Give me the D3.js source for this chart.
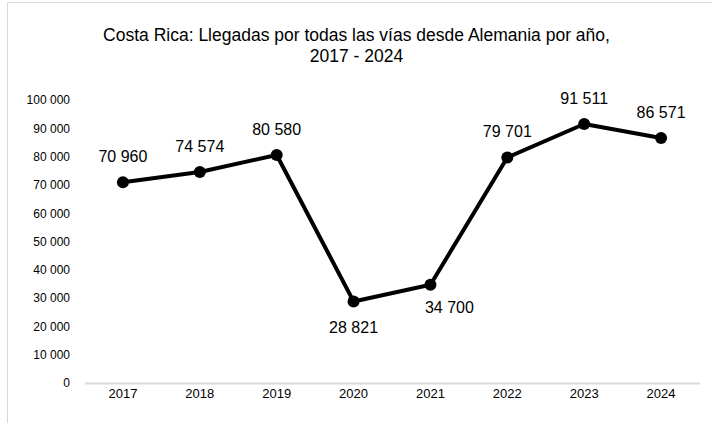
<!DOCTYPE html>
<html><head><meta charset="utf-8">
<script src="https://cdn.jsdelivr.net/npm/d3@7"></script>
<style>body{margin:0;background:#fff;}svg{display:block;font-family:"Liberation Sans",Arial,sans-serif;}</style>
</head><body><svg id="c" width="712" height="423"></svg>
<script>
const years = ["2017","2018","2019","2020","2021","2022","2023","2024"];
const arrivals = [70960, 74574, 80580, 28821, 34700, 79701, 91511, 86571];
const yTicks = [0,10000,20000,30000,40000,50000,60000,70000,80000,90000,100000];
const labelPos = ["above","above","above","below","right","above","above","above"];
const titleLines = ["Costa Rica: Llegadas por todas las vías desde Alemania por año,", "2017 - 2024"];

const svg = d3.select("#c");
svg.append("rect").attr("x",7.5).attr("y",2.5).attr("width",720).attr("height",440)
  .attr("fill","#fff").attr("stroke","#d9d9d9").attr("stroke-width",1);

const x = d3.scaleBand().domain(years).range([84.5,699.5]);
const y = d3.scaleLinear().domain([0,100000]).range([383,100]);
const fmt = v => d3.format(",")(v).replace(/,/g," ");

svg.selectAll(".title").data(titleLines).join("text")
  .attr("x",356.5).attr("y",(d,i)=>41+i*21).attr("text-anchor","middle")
  .attr("font-size",17.5).attr("fill","#000").text(d=>d);

const ya = svg.append("g").attr("transform","translate(84.5,0)")
  .call(d3.axisLeft(y).tickValues(yTicks).tickSize(0).tickPadding(14.5).tickFormat(fmt));
ya.select(".domain").remove();
ya.selectAll("text").attr("font-size",12).attr("fill","#000").attr("font-family","Liberation Sans, Arial, sans-serif");

const xa = svg.append("g").attr("transform","translate(0,383)")
  .call(d3.axisBottom(x).tickSize(0).tickPadding(6));
xa.select(".domain").attr("stroke","#d9d9d9").attr("stroke-width",2);
xa.selectAll("text").attr("font-size",13).attr("fill","#000").attr("font-family","Liberation Sans, Arial, sans-serif");

const cx = (d,i)=>x(years[i])+x.bandwidth()/2;
const line = d3.line().x((d,i)=>cx(d,i)).y(d=>y(d));
svg.append("path").datum(arrivals).attr("d",line).attr("fill","none")
  .attr("stroke","#000").attr("stroke-width",4).attr("stroke-linejoin","round");
svg.selectAll(".pt").data(arrivals).join("circle")
  .attr("cx",cx).attr("cy",d=>y(d)).attr("r",6).attr("fill","#000");

svg.selectAll(".lbl").data(arrivals).join("text")
  .attr("x",(d,i)=>cx(d,i)+(labelPos[i]==="right"?19:0))
  .attr("y",(d,i)=>y(d)+(labelPos[i]==="above"?-20:(labelPos[i]==="below"?32:28)))
  .attr("text-anchor","middle").attr("font-size",16).attr("fill","#000")
  .text(d=>fmt(d));
</script></body></html>
